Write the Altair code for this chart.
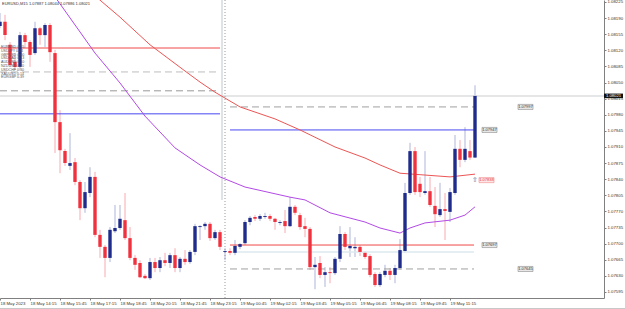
import altair as alt
import pandas as pd

# ---------------- data ----------------
bars = list(range(96))
opens = [1.08173, 1.08182, 1.08132, 1.08095, 1.08084, 1.08153, 1.08138, 1.08114, 1.08168, 1.08153,
         1.08175, 1.08114, 1.07964, 1.07901, 1.07869, 1.07877, 1.07834, 1.07777, 1.07810, 1.07845,
         1.07719, 1.07693, 1.07669, 1.07727, 1.07734, 1.07751, 1.07712, 1.07669, 1.07658, 1.07630,
         1.07625, 1.07660, 1.07647, 1.07664, 1.07658, 1.07675, 1.07647, 1.07667, 1.07660, 1.07682,
         1.07736, 1.07738, 1.07743, 1.07712, 1.07725, 1.07682, 1.07684, 1.07680, 1.07693, 1.07701,
         1.07747, 1.07758, 1.07754, 1.07758, 1.07760, 1.07754, 1.07745, 1.07749, 1.07738, 1.07780,
         1.07762, 1.07738, 1.07732, 1.07649, 1.07658, 1.07632, 1.07638, 1.07636, 1.07667, 1.07721,
         1.07690, 1.07690, 1.07693, 1.07680, 1.07673, 1.07634, 1.07610, 1.07632, 1.07641, 1.07632,
         1.07647, 1.07684, 1.07810, 1.07901, 1.07830, 1.07810, 1.07814, 1.07782, 1.07762, 1.07775,
         1.07769, 1.07810, 1.07906, 1.07882, 1.07901, 1.07887]
highs = [1.08201, 1.08197, 1.08138, 1.08114, 1.08160, 1.08158, 1.08142, 1.08182, 1.08171, 1.08179,
         1.08179, 1.08121, 1.07990, 1.07906, 1.07940, 1.07886, 1.07838, 1.07834, 1.07866, 1.07856,
         1.07730, 1.07697, 1.07736, 1.07784, 1.07784, 1.07810, 1.07736, 1.07675, 1.07664, 1.07634,
         1.07669, 1.07669, 1.07671, 1.07680, 1.07680, 1.07690, 1.07671, 1.07686, 1.07686, 1.07743,
         1.07740, 1.07747, 1.07747, 1.07730, 1.07730, 1.07690, 1.07690, 1.07708, 1.07701, 1.07751,
         1.07760, 1.07762, 1.07764, 1.07767, 1.07764, 1.07756, 1.07751, 1.07773, 1.07801, 1.07784,
         1.07767, 1.07756, 1.07736, 1.07671, 1.07673, 1.07649, 1.07649, 1.07671, 1.07738, 1.07725,
         1.07736, 1.07714, 1.07697, 1.07684, 1.07677, 1.07638, 1.07638, 1.07654, 1.07647, 1.07654,
         1.07710, 1.07832, 1.07919, 1.07910, 1.07845, 1.07901, 1.07845, 1.07823, 1.07832, 1.07810,
         1.07821, 1.07936, 1.07925, 1.07953, 1.07925, 1.08044]
lows = [1.08168, 1.08142, 1.08084, 1.08077, 1.08077, 1.08125, 1.08084, 1.08110, 1.08132, 1.08127,
        1.08095, 1.07897, 1.07853, 1.07869, 1.07860, 1.07827, 1.07751, 1.07767, 1.07801, 1.07714,
        1.07669, 1.07627, 1.07660, 1.07723, 1.07730, 1.07708, 1.07664, 1.07643, 1.07625, 1.07623,
        1.07621, 1.07638, 1.07638, 1.07651, 1.07647, 1.07638, 1.07638, 1.07654, 1.07656, 1.07675,
        1.07708, 1.07730, 1.07706, 1.07708, 1.07686, 1.07664, 1.07675, 1.07675, 1.07688, 1.07697,
        1.07740, 1.07749, 1.07749, 1.07754, 1.07749, 1.07730, 1.07740, 1.07723, 1.07736, 1.07762,
        1.07730, 1.07714, 1.07643, 1.07601, 1.07625, 1.07606, 1.07614, 1.07632, 1.07660, 1.07686,
        1.07671, 1.07671, 1.07673, 1.07667, 1.07627, 1.07606, 1.07606, 1.07627, 1.07621, 1.07614,
        1.07643, 1.07680, 1.07806, 1.07806, 1.07801, 1.07806, 1.07780, 1.07736, 1.07758, 1.07708,
        1.07747, 1.07806, 1.07866, 1.07877, 1.07882, 1.07886]
closes = [1.08182, 1.08153, 1.08088, 1.08084, 1.08153, 1.08138, 1.08110, 1.08168, 1.08153, 1.08175,
          1.08116, 1.07964, 1.07903, 1.07875, 1.07875, 1.07834, 1.07777, 1.07812, 1.07845, 1.07719,
          1.07693, 1.07669, 1.07730, 1.07734, 1.07754, 1.07712, 1.07669, 1.07654, 1.07627, 1.07625,
          1.07660, 1.07647, 1.07664, 1.07658, 1.07675, 1.07647, 1.07667, 1.07660, 1.07682, 1.07738,
          1.07738, 1.07743, 1.07712, 1.07725, 1.07693, 1.07684, 1.07680, 1.07695, 1.07699, 1.07747,
          1.07756, 1.07754, 1.07760, 1.07760, 1.07754, 1.07747, 1.07747, 1.07738, 1.07780, 1.07767,
          1.07736, 1.07732, 1.07649, 1.07654, 1.07632, 1.07638, 1.07636, 1.07667, 1.07721, 1.07693,
          1.07695, 1.07693, 1.07682, 1.07671, 1.07632, 1.07610, 1.07634, 1.07641, 1.07632, 1.07647,
          1.07686, 1.07810, 1.07901, 1.07812, 1.07812, 1.07814, 1.07784, 1.07764, 1.07775, 1.07771,
          1.07812, 1.07906, 1.07882, 1.07906, 1.07887, 1.08021]

# moving averages (bar index, value)
ma_slow_idx = [18, 20, 24, 30, 37, 40, 43, 48, 55, 60, 67, 73, 76, 80, 85, 90, 95]
ma_slow_val = [1.08248, 1.08229, 1.08192, 1.08132, 1.08075, 1.08051, 1.08029, 1.07997, 1.07971,
               1.07947, 1.07910, 1.07886, 1.07871, 1.07853, 1.07849, 1.07845, 1.07851]
ma_fast_idx = [10, 12, 19, 24, 29, 35, 40, 44, 49, 58, 61, 66, 73, 76, 80, 82, 85, 90, 93, 95]
ma_fast_val = [1.08251, 1.08221, 1.08114, 1.08049, 1.07977, 1.07908, 1.07871, 1.07845, 1.07823,
               1.07801, 1.07795, 1.07767, 1.07747, 1.07734, 1.07723, 1.07734, 1.07745, 1.07751,
               1.07762, 1.07780]

# axis ticks
x_tick_idx = [0, 6, 12, 18, 24, 30, 36, 42, 48, 54, 60, 66, 72, 78, 84, 90]
x_tick_labels = ["18 May 2023", "18 May 14:15", "18 May 15:45", "18 May 17:15", "18 May 18:45",
                 "18 May 20:15", "18 May 21:45", "18 May 23:15", "19 May 00:45", "19 May 02:15",
                 "19 May 03:45", "19 May 05:15", "19 May 06:45", "19 May 08:15", "19 May 09:45",
                 "19 May 11:15"]
y_ticks = [1.08225, 1.08190, 1.08155, 1.08120, 1.08085, 1.08050, 1.08015, 1.07980, 1.07945,
           1.07910, 1.07875, 1.07840, 1.07805, 1.07770, 1.07735, 1.07700, 1.07665, 1.07630, 1.07595]

# horizontal levels: yesterday (left) and today (right)
left_start, left_end = 0, 44
right_start, right_end = 46, 94.8
left_red = [1.08125]
left_blue = [1.07982]
left_dash_light = [1.08073]
left_dash_dark = [1.08032]
right_dash = [1.07997, 1.07645]
right_blue = [1.07947]
right_red = [1.07697]
right_light = [1.07682]
level_labels = ["1.07997", "1.07947", "1.07697", "1.07645"]
level_label_price = [1.07997, 1.07947, 1.07697, 1.07645]
level_label_x0 = [103.6, 96.4, 96.4, 103.6]
level_label_x1 = [106.6, 99.4, 99.4, 106.6]
ma_label = "1.07838"
ma_label_price = 1.07838
bid_price = 1.08021
separator_idx = 45
symbol = "EURUSD,M15"
ohlc_text = "1.07887 1.08044 1.07886 1.08021"
strength_lines = ["EURUSD 0.55", "USDJPY 0.44", "GBPUSD 0.00", "USDCAD 0.13", "AUDUSD 0.10",
                  "NZDUSD 0.20", "USDCHF 0.30", "XAUUSD 0.14", "EURGBP 0.39"]

# ---------------- chart ----------------
W, H = 604, 298
FONT = "Liberation Sans"
BLUE = "#1f2c8c"
RED = "#f0323e"
xs = alt.Scale(domain=[0, 120.8], nice=False, zero=False)
ys = alt.Scale(domain=[1.075819, 1.082293], nice=False, zero=False)

df = pd.DataFrame({"i": bars, "open": opens, "high": highs, "low": lows, "close": closes})

lbl_js = "[" + ",".join("'" + s + "'" for s in x_tick_labels) + "]"

x_axis = alt.Axis(values=x_tick_idx, labelExpr=lbl_js + "[round(datum.value / 6)]",
                  labelAlign="left", labelBaseline="top", labelFontSize=4.3, labelFont=FONT,
                  labelColor="#333333", tickSize=2, tickColor="#808080", domainColor="#808080",
                  labelPadding=1, grid=False, title=None, labelOverlap=False, labelFlush=False)
y_axis = alt.Axis(orient="right", values=y_ticks, format=".5f", labelFontSize=4.3, labelFont=FONT,
                  labelColor="#333333", tickSize=2, tickColor="#808080", domainColor="#808080",
                  labelPadding=1, grid=False, title=None, labelOverlap=False, labelFlush=False,
                  labelBaseline="middle")


def X(field):
    return alt.X(field, type="quantitative", scale=xs, axis=x_axis)


def Y(field):
    return alt.Y(field, type="quantitative", scale=ys, axis=y_axis)


# bid line (full width)
bid = alt.Chart(pd.DataFrame({"p": [bid_price]})).mark_rule(color="#e4e6e8", strokeWidth=2).encode(
    y=Y("p"))

# separator lines
sep_band = alt.Chart(pd.DataFrame({"x": [separator_idx - 0.6], "y1": [1.07795], "y2": [1.0823]})).mark_rule(
    color="#d4dadd", strokeWidth=1.5).encode(x=X("x"), y=Y("y1"), y2="y2")
sep = alt.Chart(pd.DataFrame({"x": [separator_idx]})).mark_rule(
    color="#9a9a9a", strokeDash=[1, 2], strokeWidth=1).encode(x=X("x"))


def levels(prices, x0, x1, color, dash=None, width=1):
    d = pd.DataFrame({"p": prices, "x0": [x0] * len(prices), "x1": [x1] * len(prices)})
    kw = dict(color=color, strokeWidth=width)
    if dash:
        kw["strokeDash"] = dash
    return alt.Chart(d).mark_rule(**kw).encode(x=X("x0"), x2="x1", y=Y("p"))


lv = [
    levels(left_red, left_start, left_end, "#f04848"),
    levels(left_blue, left_start, left_end, "#4848f2"),
    levels(left_dash_light, left_start, left_end, "#bdbdbd", [7, 4]),
    levels(left_dash_dark, left_start, left_end, "#989898", [7, 4]),
    levels(right_light, right_start, right_end, "#dce8ee", None, 1.5),
    levels(right_dash, right_start, right_end, "#a0a0a0", [7, 4]),
    levels(right_blue, right_start, right_end, "#4848f2"),
    levels(right_red, right_start, right_end, "#f04848"),
]

ma_slow = alt.Chart(pd.DataFrame({"i": ma_slow_idx, "v": ma_slow_val})).mark_line(
    color="#ec5555", strokeWidth=1, clip=True).encode(x=X("i"), y=Y("v"))
ma_fast = alt.Chart(pd.DataFrame({"i": ma_fast_idx, "v": ma_fast_val})).mark_line(
    color="#b24ae6", strokeWidth=1, clip=True).encode(x=X("i"), y=Y("v"))

up = "datum.close >= datum.open"
wicks = alt.Chart(df).mark_rule(strokeWidth=1, clip=True).encode(
    x=X("i"), y=Y("low"), y2="high",
    color=alt.condition(up, alt.value("#aeb5d8"), alt.value("#f7aab0")))
bodies = alt.Chart(df).transform_calculate(
    xa="datum.i - 0.34", xb="datum.i + 0.34").mark_rect(clip=True).encode(
    x=X("xa:Q"), x2="xb:Q", y=Y("open"), y2="close",
    color=alt.condition(up, alt.value(BLUE), alt.value(RED)))

# level labels on the right
lab_df = pd.DataFrame({"t": level_labels, "p": level_label_price,
                       "x0": level_label_x0, "x1": level_label_x1})
lab_box = alt.Chart(lab_df).transform_calculate(
    pa="datum.p + 0.000055", pb="datum.p - 0.000055").mark_rect(
    fill="#e9e9e9", stroke="#8a8a8a", strokeWidth=0.6).encode(x=X("x0"), x2="x1", y=Y("pa:Q"), y2="pb:Q")
lab_txt = alt.Chart(lab_df).transform_calculate(xm="(datum.x0 + datum.x1) / 2").mark_text(
    fontSize=4, font=FONT, color="#333333", baseline="middle", align="center").encode(
    x=X("xm:Q"), y=Y("p"), text="t:N")

ma_df = pd.DataFrame({"t": [ma_label], "p": [ma_label_price], "x0": [95.8], "x1": [98.8], "xa": [95.0]})
ma_box = alt.Chart(ma_df).transform_calculate(
    pa="datum.p + 0.000055", pb="datum.p - 0.000055").mark_rect(
    fill="#fde6e6", stroke="#f08a8a", strokeWidth=0.6).encode(x=X("x0"), x2="x1", y=Y("pa:Q"), y2="pb:Q")
ma_txt = alt.Chart(ma_df).transform_calculate(xm="(datum.x0 + datum.x1) / 2").mark_text(
    fontSize=4, font=FONT, color="#e83a3a", baseline="middle", align="center").encode(
    x=X("xm:Q"), y=Y("p"), text="t:N")
ma_arrow = alt.Chart(ma_df).mark_text(
    fontSize=7, font="DejaVu Sans", color="#7a6060", baseline="middle", align="center", text="\u21e7").encode(
    x=X("xa"), y=Y("p"))

# current price box on the axis
cur_df = pd.DataFrame({"t": [f"{bid_price:.5f}"], "p": [bid_price], "x0": [120.8], "x1": [124.6]})
cur_box = alt.Chart(cur_df).transform_calculate(
    pa="datum.p + 0.000050", pb="datum.p - 0.000050").mark_rect(fill="#111111", clip=False).encode(
    x=X("x0"), x2="x1", y=Y("pa:Q"), y2="pb:Q")
cur_txt = alt.Chart(cur_df).transform_calculate(xm="(datum.x0 + datum.x1) / 2").mark_text(
    fontSize=4.2, font=FONT, color="#ffffff", baseline="middle", align="center").encode(
    x=X("xm:Q"), y=Y("p"), text="t:N")

# header text and indicator list
head = alt.Chart(pd.DataFrame({"t": [symbol + "  " + ohlc_text]})).mark_text(
    fontSize=4, font=FONT, color="#333333", align="left", baseline="top").encode(
    x=alt.value(2), y=alt.value(1.5), text="t:N")
strength = alt.Chart(pd.DataFrame({"t": ["\n".join(strength_lines)]})).mark_text(
    fontSize=3.6, font=FONT, color="#555555", align="left", baseline="top",
    lineBreak="\n", lineHeight=3.8).encode(x=alt.value(1), y=alt.value(45), text="t:N")

frame = alt.Chart(pd.DataFrame({"a": [0]})).mark_rule(color="#c8c8c8", strokeWidth=1).encode(
    x=alt.value(0), x2=alt.value(625), y=alt.value(308.5))

chart = alt.layer(
    wicks, bid, sep_band, sep, *lv, ma_slow, ma_fast, bodies,
    lab_box, lab_txt, ma_box, ma_txt, ma_arrow, cur_box, cur_txt, head, strength, frame
).properties(
    width=W, height=H, autosize="none",
    padding={"left": 0, "top": 0, "right": 21, "bottom": 11},
    background="#ffffff",
).configure_view(strokeWidth=0)

chart.save("out.html", embed_options={"renderer": "svg", "actions": False})
